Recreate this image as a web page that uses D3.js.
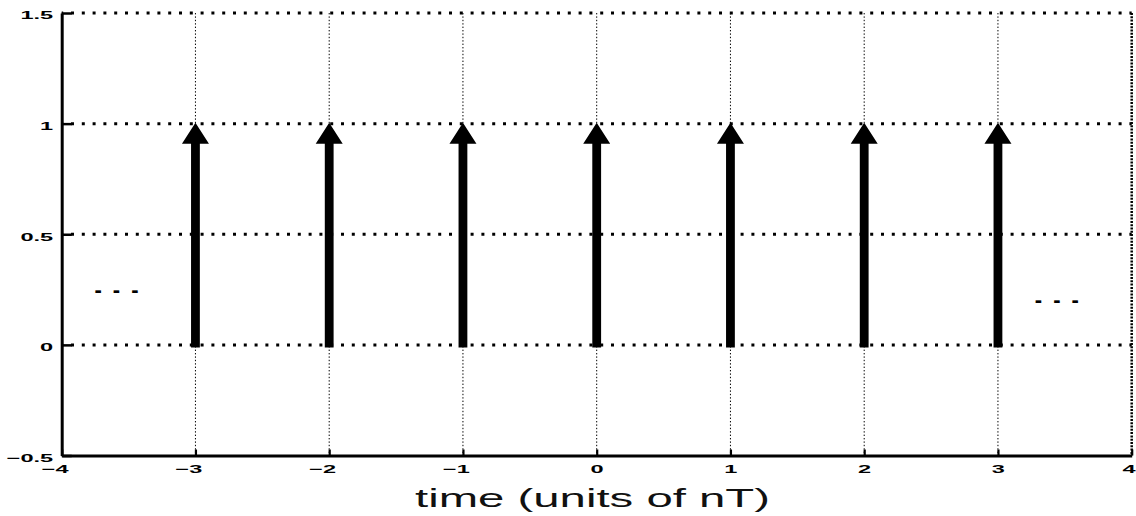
<!DOCTYPE html>
<html><head><meta charset="utf-8">
<script src="https://cdn.jsdelivr.net/npm/d3@7"></script>
<style>html,body{margin:0;padding:0;background:#fff;}svg{display:block;}</style>
</head><body>
<svg id="chart" width="1136" height="516"></svg>
<script>
// ---- data ----
const impulseTimes = [-3, -2, -1, 0, 1, 2, 3];
const impulseHeights = [1, 1, 1, 1, 1, 1, 1];
const xTicks = [-4, -3, -2, -1, 0, 1, 2, 3, 4];
const xTickLabels = ["−4", "−3", "−2", "−1", "0", "1", "2", "3", "4"];
const yTicks = [-0.5, 0, 0.5, 1, 1.5];
const yTickLabels = ["−0.5", "0", "0.5", "1", "1.5"];
const xDomain = [-4, 4];
const yDomain = [-0.5, 1.5];
const ellipsisX = [-3.59, 3.44];
const ellipsisY = [0.248, 0.205];
const xLabel = "time (units of nT)";

// ---- layout ----
const svg = d3.select("#chart");
const x = d3.scaleLinear().domain(xDomain).range([61.7, 1131.7]);
const y = d3.scaleLinear().domain(yDomain).range([455.5, 13]);
const SX = 2.05; // horizontal stretch of text in reference

svg.append("rect").attr("width",1136).attr("height",516).attr("fill","#fff");

// vertical grid (thin dotted)
svg.append("g").selectAll("line").data(xTicks.filter(d => d > xDomain[0]))
  .join("line")
  .attr("x1", d => x(d)).attr("x2", d => x(d))
  .attr("y1", y(yDomain[1])).attr("y2", y(yDomain[0]))
  .attr("stroke", "#000")
  .attr("stroke-width", d => d === xDomain[1] ? 2.5 : 1)
  .attr("stroke-dasharray", d => d === xDomain[1] ? "2 1.3" : "1.4 2");

// horizontal grid (thick dotted)
svg.append("g").selectAll("line").data(yTicks.filter(d => d > yDomain[0]))
  .join("line")
  .attr("x1", x(xDomain[0])).attr("x2", x(xDomain[1]))
  .attr("y1", d => y(d)).attr("y2", d => y(d))
  .attr("stroke", "#000").attr("stroke-width", 3)
  .attr("stroke-dasharray", "3 7.8").attr("stroke-dashoffset", 1.5);

// axes
const yAxis = d3.axisLeft(y).tickValues(yTicks).tickSizeInner(-10).tickSizeOuter(0)
  .tickFormat((d, i) => yTickLabels[i]);
const gy = svg.append("g").attr("transform", `translate(${x(xDomain[0])},0)`).call(yAxis);
gy.select(".domain").attr("stroke", "#000").attr("stroke-width", 3);
gy.selectAll(".tick line").attr("stroke", "#000").attr("stroke-width", 2.5);
gy.selectAll(".tick text")
  .attr("x", 0).attr("y", 0).attr("dy", null)
  .attr("text-anchor", "end")
  .attr("transform", `translate(-8.5,5.8) scale(${SX},1)`)
  .attr("font-family", "'Liberation Sans', Arial, sans-serif")
  .attr("font-size", 11.5).attr("font-weight", "bold").attr("fill", "#000");

const xAxis = d3.axisBottom(x).tickValues(xTicks).tickSizeInner(-6).tickSizeOuter(0)
  .tickFormat((d, i) => xTickLabels[i]);
const gx = svg.append("g").attr("transform", `translate(0,${y(yDomain[0])})`).call(xAxis);
gx.select(".domain").attr("stroke", "#000").attr("stroke-width", 3);
gx.selectAll(".tick line").attr("stroke", "#000").attr("stroke-width", 2.2);
gx.selectAll(".tick text")
  .attr("x", 0).attr("y", 0).attr("dy", null)
  .attr("text-anchor", "end")
  .attr("transform", d => `translate(${Math.min(6.5, 1135 - x(d))},17) scale(${SX},1)`)
  .attr("font-family", "'Liberation Sans', Arial, sans-serif")
  .attr("font-size", 11.5).attr("font-weight", "bold").attr("fill", "#000");
svg.selectAll(".domain").attr("fill", "none");

// impulses (arrows)
const shaftHalf = 4.4, headHalf = 13.5, headLen = 21;
const arrows = impulseTimes.map((t, i) => ({t, h: impulseHeights[i]}));
svg.append("g").selectAll("path").data(arrows).join("path")
  .attr("d", d => {
    const cx = x(d.t), y0 = y(0) + 2.5, y1 = y(d.h) - 1, yb = y1 + headLen;
    return `M${cx - shaftHalf},${y0} L${cx - shaftHalf},${yb} L${cx - headHalf},${yb} L${cx},${y1} L${cx + headHalf},${yb} L${cx + shaftHalf},${yb} L${cx + shaftHalf},${y0} Z`;
  })
  .attr("fill", "#000");

// ellipses "- - -"
svg.append("g").selectAll("text").data(ellipsisX.map((v, i) => ({x: v, y: ellipsisY[i]})))
  .join("text")
  .attr("x", d => x(d.x)).attr("y", d => y(d.y) + 7)
  .attr("text-anchor", "middle")
  .attr("textLength", 44).attr("lengthAdjust", "spacing")
  .attr("font-family", "'Liberation Sans', Arial, sans-serif")
  .attr("font-size", 22).attr("font-weight", "bold")
  .text("- - -");

// x label
svg.append("text")
  .attr("x", 592.5).attr("y", 507)
  .attr("text-anchor", "middle")
  .attr("textLength", 355).attr("lengthAdjust", "spacingAndGlyphs")
  .attr("font-family", "'Liberation Sans', Arial, sans-serif")
  .attr("font-size", 25.5).attr("fill", "#111")
  .text(xLabel);
</script>
</body></html>
